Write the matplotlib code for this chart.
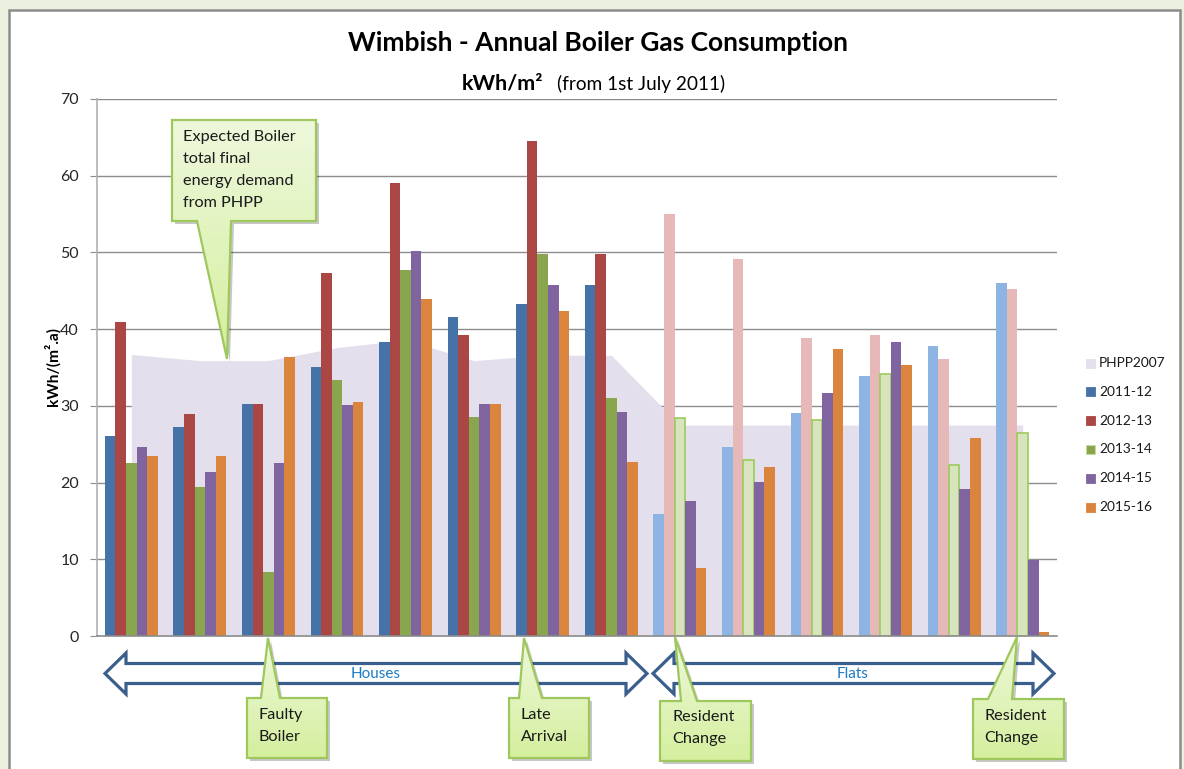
import matplotlib
matplotlib.use('Agg')
import matplotlib.pyplot as plt
from matplotlib.patches import Polygon, Rectangle
from matplotlib.colors import LinearSegmentedColormap
import numpy as np

plt.rcParams['font.family'] = ['Lato', 'DejaVu Sans']

# ---------------- data ----------------
categories = ['H1', 'H2', 'H3', 'H4', 'H5', 'H6', 'H7', 'H8',
              'F1', 'F2', 'F3', 'F4', 'F5', 'F6']
is_flat = [False] * 8 + [True] * 6
series_labels = ['2011-12', '2012-13', '2013-14', '2014-15', '2015-16']
phpp_label = 'PHPP2007'
phpp2007 = [36.7, 35.9, 35.9, 37.6, 38.6, 35.9, 36.6, 36.6,
            27.5, 27.5, 27.5, 27.5, 27.5, 27.5]
y2011_12 = [26.1, 27.2, 30.2, 35.1, 38.3, 41.6, 43.3, 45.8, 15.9, 24.6, 29.1, 33.9, 37.8, 46.0]
y2012_13 = [40.9, 28.9, 30.2, 47.3, 59.1, 39.2, 64.5, 49.8, 55.0, 49.2, 38.8, 39.3, 36.1, 45.2]
y2013_14 = [22.5, 19.4, 8.3, 33.4, 47.7, 28.6, 49.8, 31.0, 28.4, 23.0, 28.1, 34.2, 22.3, 26.4]
y2014_15 = [24.7, 21.4, 22.5, 30.1, 50.2, 30.2, 45.8, 29.2, 17.6, 20.1, 31.7, 38.3, 19.2, 9.9]
y2015_16 = [23.5, 23.5, 36.4, 30.5, 43.9, 30.2, 42.4, 22.7, 8.9, 22.0, 37.4, 35.3, 25.8, 0.5]
yticks = [0, 10, 20, 30, 40, 50, 60, 70]

title = 'Wimbish - Annual Boiler Gas Consumption'
subtitle_bold = 'kWh/m²'
subtitle_rest = '(from 1st July 2011)'
ylabel = 'kWh/(m².a)'
annotations = [
    'Expected Boiler\ntotal final\nenergy demand\nfrom PHPP',
    'Faulty\nBoiler', 'Late\nArrival', 'Resident\nChange', 'Resident\nChange']
group_labels = ['Houses', 'Flats']

# ---------------- styles ----------------
dark = ['#4572A7', '#AA4643', '#89A54E', '#80649F', '#DB843D']
light = ['#8EB4E3', '#E6B9B8', '#D7E4BD', '#80649F', '#DB843D']
phpp_color = '#E4DFEC'

W, H = 1184, 769
fig = plt.figure(figsize=(W / 100, H / 100), dpi=100)
fig.patch.set_facecolor('#EBF1DE')

bg = fig.add_axes([0, 0, 1, 1], zorder=-1)
bg.set_xlim(0, W); bg.set_ylim(H, 0); bg.axis('off')
bg.add_patch(Rectangle((9, 9.5), 1171, 800, facecolor='white', edgecolor='#8C8C8C', lw=1.8))

ax = fig.add_axes([97 / W, (H - 636) / H, 960 / W, 537 / H], zorder=1)
ax.patch.set_alpha(0)
x = np.arange(len(categories))
ax.fill_between(x, phpp2007, 0, color=phpp_color, lw=0, zorder=1, label=phpp_label)

bw = 1 / 6.5
series = [y2011_12, y2012_13, y2013_14, y2014_15, y2015_16]
for i, vals in enumerate(series):
    cols = [light[i] if f else dark[i] for f in is_flat]
    if i == 2:
        edges = ['#9CCB5E' if f else dark[i] for f in is_flat]
        lws = [1.2 if f else 0 for f in is_flat]
    else:
        edges = cols
        lws = [0] * len(cols)
    ax.bar(x + (i - 2) * bw, vals, width=bw, color=cols, edgecolor=edges,
           linewidth=lws, zorder=2, label=series_labels[i])

ax.set_xlim(-0.5, len(categories) - 0.5)
ax.set_ylim(0, 70)
ax.set_yticks(yticks)
ax.set_xticks([])
ax.yaxis.grid(True, color='#8C8C8C', lw=1)
ax.set_axisbelow(True)
for s in ['top', 'right']:
    ax.spines[s].set_visible(False)
ax.spines['left'].set_color('#B0B0B0')
ax.spines['bottom'].set_color('#8C8C8C')
ax.spines['left'].set_linewidth(1.2)
ax.spines['bottom'].set_linewidth(1.2)
ax.tick_params(axis='y', length=5, color='#8C8C8C', pad=8, labelsize=11.5, labelcolor='#262626')

# ---------------- overlay ----------------
ov = fig.add_axes([0, 0, 1, 1], zorder=3)
ov.set_xlim(0, W); ov.set_ylim(H, 0); ov.axis('off')
ov.patch.set_alpha(0)

fig.canvas.draw()
rend = fig.canvas.get_renderer()


def fit(t, target, dim='w'):
    bb = t.get_window_extent(renderer=rend)
    cur = bb.width if dim == 'w' else bb.height
    t.set_fontsize(t.get_fontsize() * target / cur)
    return t.get_fontsize()


t1 = ov.text(597.5, 51, title, ha='center', va='baseline', weight='bold', fontsize=18, color='black')
fit(t1, 501)
t2 = ov.text(462, 90, subtitle_bold, ha='left', va='baseline', weight='bold', fontsize=14)
fit(t2, 82)
t3 = ov.text(557, 90, subtitle_rest, ha='left', va='baseline', fontsize=11)
fit(t3, 168)

ty = ov.text(52, 367, ylabel, ha='center', va='center', rotation=90, weight='bold', fontsize=10)
fit(ty, 79, dim='h')

# block arrows
def block_arrow(xl, xr, yc, hh=20.5, bh=10, hl=21):
    pts = [(xl, yc), (xl + hl, yc - hh), (xl + hl, yc - bh), (xr - hl, yc - bh),
           (xr - hl, yc - hh), (xr, yc), (xr - hl, yc + hh), (xr - hl, yc + bh),
           (xl + hl, yc + bh), (xl + hl, yc + hh)]
    ov.add_patch(Polygon(pts, closed=True, facecolor='white', edgecolor='#3B5F8C',
                         lw=2.3, joinstyle='miter'))

block_arrow(105, 647, 673.5)
block_arrow(653, 1054, 673.5)
th = ov.text(376, 674, group_labels[0], ha='center', va='center', color='#1B7BC6', fontsize=11)
hfs = fit(th, 50)
ov.text(853, 674, group_labels[1], ha='center', va='center', color='#1B7BC6', fontsize=hfs)

cmap = LinearSegmentedColormap.from_list('cg', ['#EEF8DC', '#D5EF9E'])


def callout(pts, bbox_y, text_lines, tx, ty0, fs, dy=22):
    sh = Polygon([(px + 3, py + 3) for px, py in pts], closed=True, facecolor='black',
                 alpha=0.22, lw=0)
    ov.add_patch(sh)
    poly = Polygon(pts, closed=True, facecolor='none', edgecolor='#9EC75E', lw=1.6)
    ov.add_patch(poly)
    xs = [p[0] for p in pts]
    grad = np.linspace(0, 1, 256).reshape(-1, 1)
    im = ov.imshow(grad, cmap=cmap, extent=[min(xs), max(xs), bbox_y[1], bbox_y[0]],
                   aspect='auto', zorder=1.5)
    fill = Polygon(pts, closed=True, facecolor='none', edgecolor='none')
    ov.add_patch(fill)
    im.set_clip_path(fill)
    poly.set_zorder(2)
    for k, line in enumerate(text_lines):
        ov.text(tx, ty0 + k * dy, line, ha='left', va='center', fontsize=fs, zorder=3,
                color='#1A1A1A')

ttest = ov.text(0, 0, 'Expected Boiler', fontsize=11)
fs = fit(ttest, 112)
ttest.remove()

callout([(172, 120), (316, 120), (316, 221), (231, 221), (227, 359), (197, 221), (172, 221)],
        (120, 359), annotations[0].split('\n'), 183, 137, fs)
callout([(247, 698), (261, 698), (268, 638), (280, 698), (327, 698), (327, 758), (247, 758)],
        (638, 758), annotations[1].split('\n'), 259, 715, fs)
callout([(509, 698), (519, 698), (524, 638), (542, 698), (589, 698), (589, 758), (509, 758)],
        (638, 758), annotations[2].split('\n'), 521, 715, fs)
callout([(660, 701), (681, 701), (675, 637), (697, 701), (751, 701), (751, 761), (660, 761)],
        (637, 761), annotations[3].split('\n'), 672, 717, fs)
callout([(973, 699), (988, 699), (1017, 637), (1012, 699), (1064, 699), (1064, 759), (973, 759)],
        (637, 759), annotations[4].split('\n'), 984, 716, fs)

# legend (manual, colors from series styles)
leg_cols = [phpp_color] + dark
leg_labels = [phpp_label] + series_labels
lt = ov.text(0, 0, '2011-12', fontsize=10)
lfs = fit(lt, 53)
lt.remove()
for k, (c, lab) in enumerate(zip(leg_cols, leg_labels)):
    yc = 363 + k * 28.8
    ov.add_patch(Rectangle((1086, yc - 4.5), 9, 9, facecolor=c,
                           edgecolor='#C3DE9A' if k == 3 else c, lw=0.6))
    ov.text(1099, yc, lab, ha='left', va='center', fontsize=lfs, color='#1A1A1A')

fig.savefig('out.png', dpi=100, facecolor=fig.get_facecolor())
